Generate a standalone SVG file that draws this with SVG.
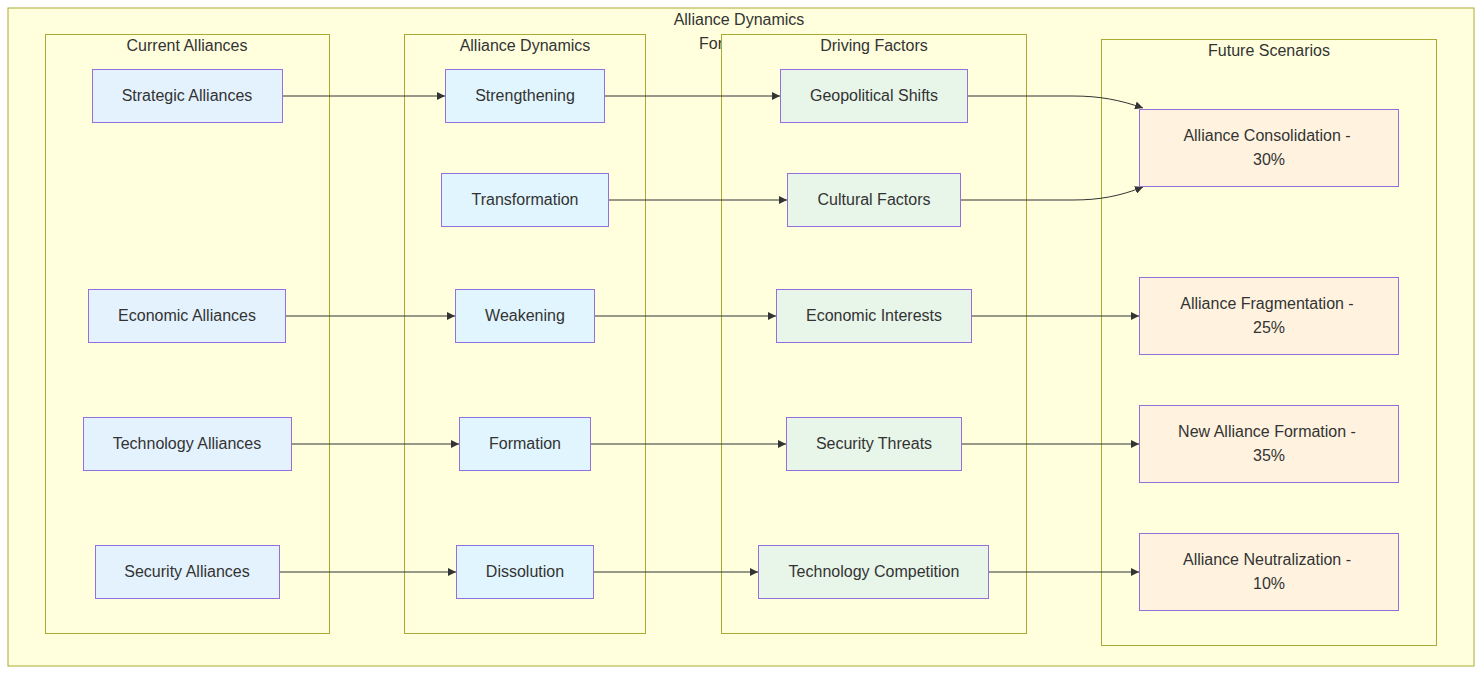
<svg xmlns="http://www.w3.org/2000/svg" width="1482" height="674" viewBox="0 0 1482 674">
<style>
text{font-family:"Liberation Sans",Arial,sans-serif;font-size:16px;fill:#333;text-anchor:middle;dominant-baseline:central}
.cl{fill:#ffffde;stroke:#aaaa33;stroke-width:1}
.n rect{stroke:#9370db;stroke-width:1}
.cur rect{fill:#e3f2fd}
.dyn rect{fill:#e1f5fe}
.drv rect{fill:#e8f5e9}
.fut rect{fill:#fff3e0}
.e{fill:none;stroke:#333;stroke-width:1}
</style>
<defs>
<marker id="ah" viewBox="0 0 10 10" refX="10" refY="5" markerWidth="8" markerHeight="8" markerUnits="userSpaceOnUse" orient="auto">
<path d="M0,0 L10,5 L0,10 z" fill="#333"/>
</marker>
</defs>
<g id="cluster-outer">
<rect class="cl" x="8" y="8" width="1466" height="658"/>
<text x="739" y="19">Alliance Dynamics</text>
<text x="699" y="43" style="text-anchor:start">For</text>
</g>
<g id="cluster-current">
<rect class="cl" x="45.5" y="34.5" width="284" height="599"/>
<text x="187" y="45">Current Alliances</text>
</g>
<g id="cluster-dynamics">
<rect class="cl" x="404.5" y="34.5" width="241" height="599"/>
<text x="525" y="45">Alliance Dynamics</text>
</g>
<g id="cluster-driving">
<rect class="cl" x="721.5" y="34.5" width="305" height="599"/>
<text x="874" y="45">Driving Factors</text>
</g>
<g id="cluster-future">
<rect class="cl" x="1101.5" y="39.5" width="335" height="606"/>
<text x="1269" y="50">Future Scenarios</text>
</g>
<g id="connectors">
<path class="e" d="M283,96 L445,96" marker-end="url(#ah)"/>
<path class="e" d="M605,96 L780,96" marker-end="url(#ah)"/>
<path class="e" d="M968,96 L1073,96 C1100,96 1120,100 1143,108" marker-end="url(#ah)"/>
<path class="e" d="M609,200 L787,200" marker-end="url(#ah)"/>
<path class="e" d="M961,200 L1073,200 C1100,200 1120,196 1143,187" marker-end="url(#ah)"/>
<path class="e" d="M286,316 L455,316" marker-end="url(#ah)"/>
<path class="e" d="M595,316 L776,316" marker-end="url(#ah)"/>
<path class="e" d="M972,316 L1139,316" marker-end="url(#ah)"/>
<path class="e" d="M292,444 L459,444" marker-end="url(#ah)"/>
<path class="e" d="M591,444 L786,444" marker-end="url(#ah)"/>
<path class="e" d="M962,444 L1139,444" marker-end="url(#ah)"/>
<path class="e" d="M280,572 L456,572" marker-end="url(#ah)"/>
<path class="e" d="M594,572 L758,572" marker-end="url(#ah)"/>
<path class="e" d="M989,572 L1139,572" marker-end="url(#ah)"/>
</g>
<g id="strategic-alliances" class="n cur"><rect x="92.5" y="69.5" width="190" height="53"/><text x="187" y="95.5">Strategic Alliances</text></g>
<g id="economic-alliances" class="n cur"><rect x="88.5" y="289.5" width="197" height="53"/><text x="187" y="315.5">Economic Alliances</text></g>
<g id="technology-alliances" class="n cur"><rect x="83.5" y="417.5" width="208" height="53"/><text x="187" y="443.5">Technology Alliances</text></g>
<g id="security-alliances" class="n cur"><rect x="95.5" y="545.5" width="184" height="53"/><text x="187" y="571.5">Security Alliances</text></g>
<g id="strengthening" class="n dyn"><rect x="445.5" y="69.5" width="159" height="53"/><text x="525" y="95.5">Strengthening</text></g>
<g id="transformation" class="n dyn"><rect x="441.5" y="173.5" width="167" height="53"/><text x="525" y="199.5">Transformation</text></g>
<g id="weakening" class="n dyn"><rect x="455.5" y="289.5" width="139" height="53"/><text x="525" y="315.5">Weakening</text></g>
<g id="formation" class="n dyn"><rect x="459.5" y="417.5" width="131" height="53"/><text x="525" y="443.5">Formation</text></g>
<g id="dissolution" class="n dyn"><rect x="456.5" y="545.5" width="137" height="53"/><text x="525" y="571.5">Dissolution</text></g>
<g id="geopolitical-shifts" class="n drv"><rect x="780.5" y="69.5" width="187" height="53"/><text x="874" y="95.5">Geopolitical Shifts</text></g>
<g id="cultural-factors" class="n drv"><rect x="787.5" y="173.5" width="173" height="53"/><text x="874" y="199.5">Cultural Factors</text></g>
<g id="economic-interests" class="n drv"><rect x="776.5" y="289.5" width="195" height="53"/><text x="874" y="315.5">Economic Interests</text></g>
<g id="security-threats" class="n drv"><rect x="786.5" y="417.5" width="175" height="53"/><text x="874" y="443.5">Security Threats</text></g>
<g id="technology-competition" class="n drv"><rect x="758.5" y="545.5" width="230" height="53"/><text x="874" y="571.5">Technology Competition</text></g>
<g id="alliance-consolidation" class="n fut"><rect x="1139.5" y="109.5" width="259" height="77"/><text x="1267" y="135.5">Alliance Consolidation -</text><text x="1269" y="159.5">30%</text></g>
<g id="alliance-fragmentation" class="n fut"><rect x="1139.5" y="277.5" width="259" height="77"/><text x="1267" y="303.5">Alliance Fragmentation -</text><text x="1269" y="327.5">25%</text></g>
<g id="new-alliance-formation" class="n fut"><rect x="1139.5" y="405.5" width="259" height="77"/><text x="1267" y="431.5">New Alliance Formation -</text><text x="1269" y="455.5">35%</text></g>
<g id="alliance-neutralization" class="n fut"><rect x="1139.5" y="533.5" width="259" height="77"/><text x="1267" y="559.5">Alliance Neutralization -</text><text x="1269" y="583.5">10%</text></g>
</svg>
